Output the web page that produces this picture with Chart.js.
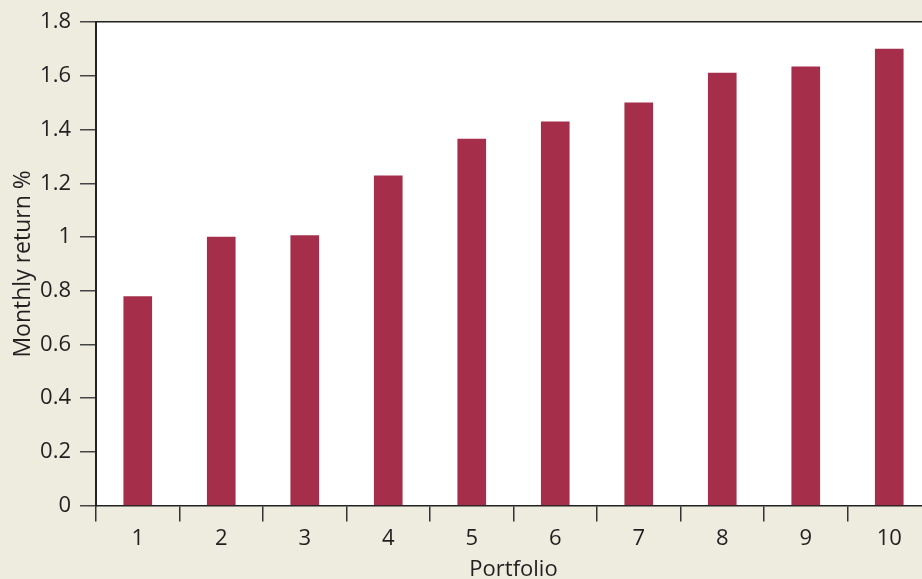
<!DOCTYPE html>
<html>
<head>
<meta charset="utf-8">
<script src="https://cdn.jsdelivr.net/npm/chart.js@4"></script>
<style>
  html, body { margin: 0; padding: 0; background: #eeebdf; overflow: hidden; }
  #wrap { width: 940px; height: 579px; }
</style>
</head>
<body>
<div id="wrap"><canvas id="chart" width="940" height="579"></canvas></div>
<script>
const portfolios = ['1', '2', '3', '4', '5', '6', '7', '8', '9', '10'];
const monthlyReturns = [0.778, 1.0, 1.005, 1.228, 1.365, 1.429, 1.50, 1.611, 1.634, 1.70];
const yTicks = [0, 0.2, 0.4, 0.6, 0.8, 1, 1.2, 1.4, 1.6, 1.8];

const textColor = '#231f20';
const fontFamily = '"Open Sans", Lato, sans-serif';

// white plot area
const plotBackground = {
    id: 'plotBackground',
    beforeDraw(chart) {
        const { ctx, chartArea } = chart;
        ctx.save();
        ctx.fillStyle = '#ffffff';
        ctx.fillRect(chartArea.left, chartArea.top, chartArea.right - chartArea.left, chartArea.bottom - chartArea.top);
        ctx.restore();
    }
};

new Chart(document.getElementById('chart').getContext('2d'), {
    type: 'bar',
    data: {
        labels: portfolios,
        datasets: [{
            data: monthlyReturns,
            backgroundColor: '#a52f4b',
            barThickness: 28
        }]
    },
    options: {
        responsive: false,
        animation: false,
        layout: { padding: { left: 0, top: 22, right: 9, bottom: 0 } },
        plugins: { legend: { display: false }, tooltip: { enabled: false } },
        scales: {
            x: {
                offset: true,
                grid: {
                    offset: true,
                    drawOnChartArea: false,
                    tickLength: 16,
                    tickColor: '#333',
                    lineWidth: 1.5
                },
                border: { color: '#222', width: 1.5 },
                ticks: {
                    color: textColor,
                    padding: 4,
                    font: { family: fontFamily, size: 22 }
                },
                title: {
                    display: true,
                    text: 'Portfolio',
                    color: textColor,
                    padding: { top: 0, bottom: 0 },
                    font: { family: fontFamily, size: 22, lineHeight: 0.8 }
                },
                afterFit: s => { s.height = 73.4; }
            },
            y: {
                min: 0,
                max: 1.8,
                afterBuildTicks: s => { s.ticks = yTicks.map(v => ({ value: v })); },
                grid: {
                    drawOnChartArea: true,
                    color: c => (c.tick && c.tick.value === 1.8) ? '#222' : 'rgba(0,0,0,0)',
                    lineWidth: 1.5,
                    tickLength: 16,
                    tickColor: '#444'
                },
                border: { color: '#222', width: 2 },
                ticks: {
                    color: textColor,
                    padding: 9,
                    font: { family: fontFamily, size: 22 },
                    callback: v => String(Math.round(v * 10) / 10)
                },
                title: {
                    display: true,
                    text: 'Monthly return %',
                    color: textColor,
                    padding: { top: 10, bottom: 4 },
                    font: { family: fontFamily, size: 23 }
                },
                afterFit: s => { s.width = 96; }
            }
        }
    },
    plugins: [plotBackground]
});
</script>
</body>
</html>
